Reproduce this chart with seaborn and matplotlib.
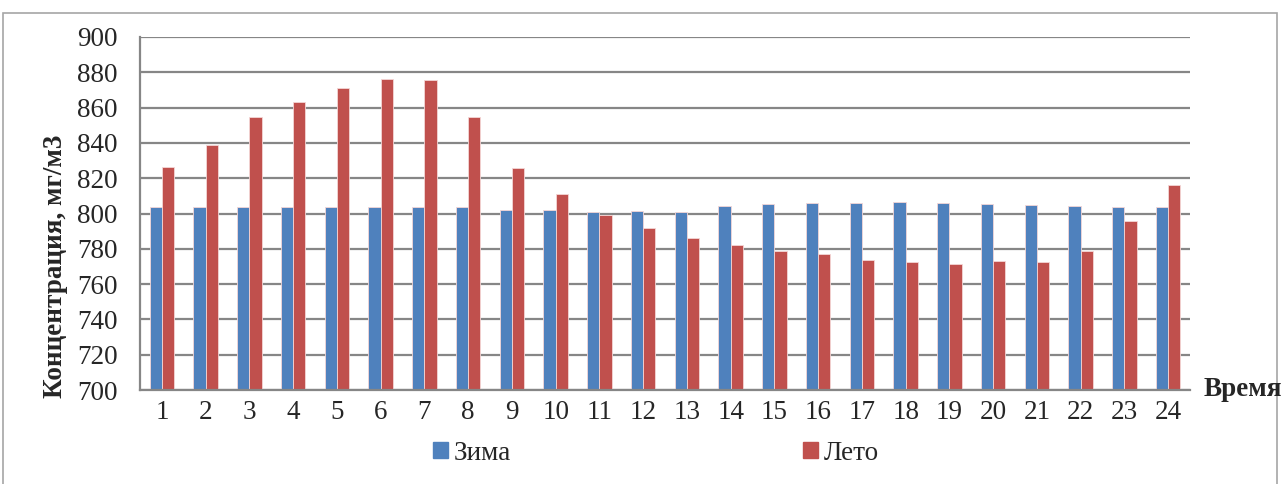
import matplotlib
matplotlib.use("Agg")
import matplotlib.pyplot as plt
import seaborn as sns
import pandas as pd
from matplotlib.patches import Rectangle

# Hour of day and concentration for the two seasons.
hours = list(range(1, 25))
winter = [803.4, 803.4, 803.4, 803.4, 803.5, 803.4, 803.4, 803.6, 801.7, 802.0,
          800.6, 801.3, 800.6, 804.3, 805.4, 805.7, 806.0, 806.6, 806.2, 805.4,
          804.7, 804.1, 803.7, 803.4]
summer = [826.4, 838.9, 854.7, 863.0, 871.1, 876.4, 875.6, 854.8, 825.8, 811.1,
          799.2, 792.0, 786.0, 782.0, 778.6, 776.8, 773.7, 772.8, 771.2, 773.0,
          772.4, 778.8, 795.5, 816.0]
season_names = ["Зима", "Лето"]
y_ticks = list(range(700, 901, 20))

COLOURS = {"Зима": "#4F81BD", "Лето": "#C0504D"}
GRID = "#868686"
FS = 19.5

df = pd.DataFrame({
    "hour": hours * 2,
    "value": winter + summer,
    "season": [season_names[0]] * 24 + [season_names[1]] * 24,
})

sns.set_style("white")
plt.rcParams["font.family"] = ["Liberation Serif", "DejaVu Serif"]

fig = plt.figure(figsize=(12.83, 4.84), dpi=100)
ax = fig.add_axes([140 / 1283, 1 - 390 / 484, 1050 / 1283, 353 / 484])

sns.barplot(data=df, x="hour", y="value", hue="season", palette=COLOURS,
            saturation=1, width=0.56, gap=0, edgecolor="#f4d6d6",
            linewidth=0.6, legend=False, ax=ax)

ax.set_ylim(700, 900)
ax.set_xlim(-0.5, 23.5)
ax.set_yticks(y_ticks)
ax.yaxis.grid(True, color=GRID, linewidth=1.6)
ax.set_axisbelow(True)

for side in ["top", "right"]:
    ax.spines[side].set_visible(False)
for side in ["left", "bottom"]:
    ax.spines[side].set_color(GRID)
    ax.spines[side].set_linewidth(1.6)

# x ticks sit on the category boundaries, labels in the middle
ax.set_xticks([i - 0.5 for i in range(25)], minor=False)
ax.set_xticklabels([])
ax.set_xticks(range(24), minor=True)
ax.set_xticklabels([str(h) for h in hours], minor=True)
ax.tick_params(axis="x", which="major", direction="out", length=6,
               color=GRID, width=1.4)
ax.tick_params(axis="x", which="minor", length=0, labelsize=FS, pad=7)
ax.tick_params(axis="y", direction="out", length=6, color=GRID, width=1.4,
               labelsize=FS, pad=10)

ax.set_xlabel("")
ax.set_ylabel("Концентрация, мг/м3", fontsize=FS, fontweight="bold")
# the label sits a bit lower than the middle of the axis in the original
ax.yaxis.set_label_coords(-0.069, 0.35)
fig.text(1204 / 1283, 1 - 390 / 484, "Время", fontsize=FS,
         fontweight="bold", ha="left", va="center")

handles = [plt.Rectangle((0, 0), 1, 1, color=COLOURS[s]) for s in season_names]
fig.legend(handles, season_names, loc="center",
           bbox_to_anchor=(656 / 1283, 1 - 453 / 484), ncol=2, frameon=False,
           fontsize=FS, handlelength=0.55, handleheight=0.55,
           handletextpad=0.2, columnspacing=10.8)

# light outer frame around the chart
fig.patches.append(Rectangle((3 / 1283, -0.1), 1274 / 1283, 1.1 - 13 / 484,
                             transform=fig.transFigure, fill=False,
                             edgecolor="#a6a6a6", linewidth=1.2))

fig.savefig("out.png", dpi=100)
